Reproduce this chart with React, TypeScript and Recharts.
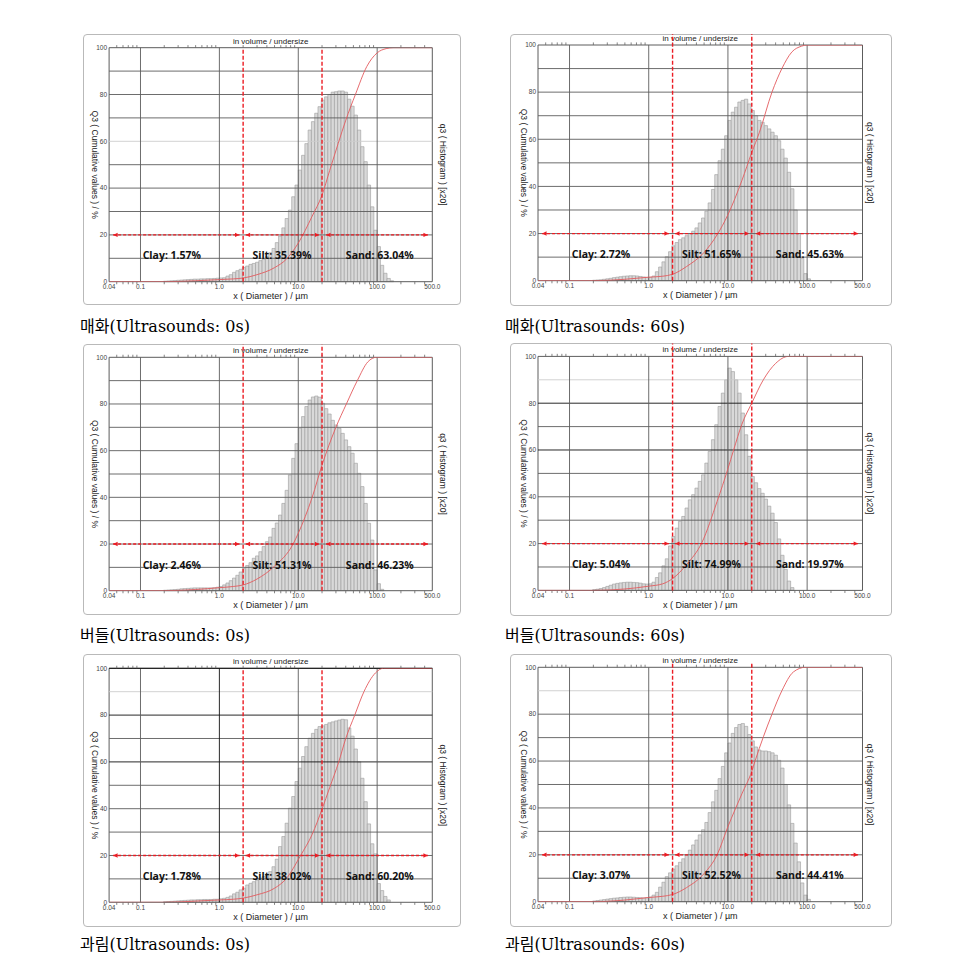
import React from "react";
import {
  ComposedChart,
  Line,
  XAxis,
  YAxis,
  ReferenceArea,
  ReferenceLine,
  ReferenceDot,
} from "recharts";

// analyser size classes: 24 per decade, first class starts at 10^(-17/24) µm
const CLASSES_PER_DECADE = 24;
const FIRST_CLASS = -17;

const X_TICKS = [0.04, 0.1, 1, 10, 100, 500];
const X_TICK_LABELS = ["0.04", "0.1", "1.0", "10.0", "100.0", "500.0"];
const X_MINOR = [
  0.05, 0.06, 0.07, 0.08, 0.09, 0.2, 0.3, 0.4, 0.5, 0.6, 0.7, 0.8, 0.9, 2, 3, 4, 5, 6, 7, 8, 9,
  20, 30, 40, 50, 60, 70, 80, 90, 200, 300, 400,
];
const X_GRID = [0.1, 1, 10, 100];
const Y_TICKS = [0, 20, 40, 60, 80, 100];
const Y_GRID = [10, 20, 30, 40, 50, 60, 70, 80, 90];

// clay | silt | sand limits (µm)
const CLASS_LIMITS = [2, 20];
const CLASS_NAMES = ["Clay", "Silt", "Sand"];
const ARROW_SPANS = [
  [0.045, 1.8],
  [2.15, 18.5],
  [22.5, 440],
];
const LABEL_X = [0.25, 6.2, 108];
const ARROW_Y = 20;
const LABEL_Y = 11.2;

const CAPTIONS = [
  "매화(Ultrasounds: 0s)",
  "매화(Ultrasounds: 60s)",
  "버들(Ultrasounds: 0s)",
  "버들(Ultrasounds: 60s)",
  "과림(Ultrasounds: 0s)",
  "과림(Ultrasounds: 60s)",
];

// clay / silt / sand percentages
const PCT_MAEHWA_0 = [1.57, 35.39, 63.04];
const PCT_MAEHWA_60 = [2.72, 51.65, 45.63];
const PCT_BEODEUL_0 = [2.46, 51.31, 46.23];
const PCT_BEODEUL_60 = [5.04, 74.99, 19.97];
const PCT_GWARIM_0 = [1.78, 38.02, 60.2];
const PCT_GWARIM_60 = [3.07, 52.52, 44.41];

// q3 histogram [x20], one value per size class starting at FIRST_CLASS
const Q3H_MAEHWA_0 = [
  0.2, 0.3, 0.4, 0.5, 0.6, 0.7, 0.8, 0.9, 1.0, 1.1, 1.1, 1.2, 1.2, 1.3, 1.3, 1.4, 1.5,
  1.6, 1.7, 2.4, 3.0, 4.0, 4.7, 5.3, 6.1, 6.7, 7.4,
  7.8, 8.3, 9.0, 9.7, 10.7, 12.4, 14.2, 16.7, 19.5, 23,
  27, 30.6, 36.3, 41.3, 47.7, 54, 59, 64.8, 68.4, 72,
  74.8, 77.6, 79, 80, 81, 81.2, 81.5, 81.5, 81, 78,
  75, 71.2, 64.8, 57.7, 51.3, 41.3, 32, 22, 15, 7,
  3.6, 1.4, 0.4,
];
const Q3H_MAEHWA_60 = [
  0.2, 0.3, 0.4, 0.6, 0.8, 1.0, 1.3, 1.5, 1.7, 1.9, 2.0, 2.1, 2.1, 2.0, 1.8, 1.6, 1.4,
  1.4, 2.0, 3.8, 5.8, 8.0, 10.2, 12.3, 14.8, 16.2, 17.4,
  18.2, 19.1, 20, 21, 22.4, 24.5, 26.6, 29.5, 33, 38.7,
  45, 50.9, 55.8, 61.5, 68, 71.5, 73.6, 75.8, 76.5, 77,
  75, 72.2, 70, 68, 67.2, 65.8, 64.4, 63, 61.5, 59.4,
  55.8, 52, 46, 39, 30, 20, 9.5, 3, 0.8,
];
const Q3H_BEODEUL_0 = [
  0.2, 0.3, 0.4, 0.5, 0.6, 0.8, 0.9, 1.0, 1.1, 1.2, 1.2, 1.2, 1.2, 1.2, 1.2, 1.3, 1.5,
  1.8, 2.5, 3.3, 4.3, 5.4, 6.6, 8.0, 9.5, 10.8, 12,
  13.9, 14.9, 16.7, 18.9, 21, 23, 26.7, 29, 32.4, 37.4,
  43, 49.6, 56.7, 63, 69.6, 74.6, 78.9, 81.7, 83, 83.4,
  82.9, 80.3, 78, 75.7, 73, 71, 69.6, 67.4, 64.6, 61.7,
  58.9, 54.6, 50.3, 44.6, 37.4, 28.9, 21.7, 8.9, 3, 0.6,
];
const Q3H_BEODEUL_60 = [
  0.3, 0.5, 0.8, 1.2, 1.7, 2.2, 2.7, 3.0, 3.2, 3.4, 3.5, 3.5, 3.4, 3.3, 3.1, 2.8, 2.7,
  2.8, 3.5, 5.5, 7.5, 10.5, 13.5, 19, 23, 26.6, 29.5,
  31.6, 35.2, 38.7, 40.9, 43.7, 46.6, 49.4, 54.4, 59.4, 64.4,
  70.8, 78.6, 84.3, 90, 95, 93.5, 90, 84.3, 75.8, 66.5,
  57.3, 48.7, 46, 43.5, 41.5, 39, 36, 33, 29, 22,
  15, 9, 4, 1.2,
];
const Q3H_GWARIM_0 = [
  0.2, 0.3, 0.4, 0.5, 0.6, 0.7, 0.8, 0.9, 1.0, 1.0, 1.1, 1.1, 1.2, 1.2, 1.2, 1.3, 1.3,
  1.5, 1.7, 2.1, 2.7, 3.6, 4.3, 5.3, 6, 7.4, 8.1,
  8.8, 9.5, 10.3, 11, 12, 13.1, 15.2, 18.4, 23.8, 28.1,
  33.8, 40.2, 45.2, 51.6, 57.3, 62.3, 66.5, 70.1, 72.2, 73.9,
  75.1, 75.4, 76, 76.7, 77.1, 77.5, 77.9, 78.2, 78, 74.5,
  71, 65.5, 60, 53, 43, 33.5, 25, 20.7, 8, 5,
  2.5, 1,
];
const Q3H_GWARIM_60 = [
  0.3, 0.5, 0.7, 0.9, 1.1, 1.3, 1.5, 1.6, 1.8, 1.9, 2.0, 2.0, 1.9, 1.8, 1.7, 1.6, 1.7,
  2.0, 2.8, 4.0, 6.2, 8.3, 10.7, 12.3, 13.9, 15.3, 16.8,
  18.3, 19.9, 22, 24.2, 26.3, 28.5, 30.7, 33.8, 38, 42.6,
  47.5, 52.5, 57.7, 63.5, 67.7, 71.8, 74.3, 75.6, 76, 74.8,
  71.3, 68.6, 66, 64.7, 64.3, 64.3, 64, 63.5, 62.5, 60.3,
  57, 50, 41.3, 33.4, 25, 17, 8, 2.8, 1,
];

// Q3 cumulative curve, [diameter µm, %]
const Q3_MAEHWA_0 = [
  [0.04, 0], [0.2, 0], [0.5, 0.4], [1, 0.9], [1.5, 1.2], [2, 1.57], [3, 3], [5, 6], [7, 9.5],
  [10, 16.5], [15, 28], [20, 37], [25, 47.5], [32, 59], [40, 69], [53, 80], [74, 92],
  [100, 97.8], [130, 99.6], [160, 100], [500, 100],
];
const Q3_MAEHWA_60 = [
  [0.04, 0], [0.2, 0], [0.5, 0.6], [1, 1.5], [1.5, 1.9], [2, 2.72], [3, 6], [5, 12], [7.3, 19.5],
  [10, 28], [15, 42.5], [20, 54.4], [25, 63], [36, 80], [48, 90], [64, 97], [85, 99.5],
  [100, 100], [500, 100],
];
const Q3_BEODEUL_0 = [
  [0.04, 0], [0.2, 0], [0.5, 0.5], [1, 1.3], [1.5, 1.8], [2, 2.46], [3, 5], [5, 10.5], [8.6, 20],
  [10, 24.6], [15, 40], [20, 53.8], [30, 70], [40.7, 80], [56, 90], [76, 98], [98, 100],
  [500, 100],
];
const Q3_BEODEUL_60 = [
  [0.04, 0], [0.2, 0], [0.5, 0.6], [1, 1.8], [1.5, 2.8], [2, 5.04], [3, 11], [4.7, 20.5],
  [7.3, 38], [10, 52], [11.8, 60], [15, 71], [20, 80.03], [28, 90], [40, 97], [58, 100],
  [500, 100],
];
const Q3_GWARIM_0 = [
  [0.04, 0], [0.2, 0], [0.5, 0.5], [1, 1.0], [1.5, 1.3], [2, 1.78], [3, 3.2], [5, 6], [7, 10],
  [10.7, 20], [15, 29], [20, 39.8], [25, 49], [32.6, 60], [40, 70], [52, 80], [68, 90],
  [95, 98], [120, 100], [500, 100],
];
const Q3_GWARIM_60 = [
  [0.04, 0], [0.2, 0], [0.5, 0.7], [1, 1.8], [1.5, 2.3], [2, 3.07], [3, 6], [5, 12], [7.3, 20],
  [10, 32], [15, 46], [20, 55.6], [22, 60], [36, 80], [48, 90], [67, 98], [95, 100],
  [500, 100],
];

const PANELS = [
  { bins: Q3H_MAEHWA_0, q3: Q3_MAEHWA_0, pct: PCT_MAEHWA_0 },
  { bins: Q3H_MAEHWA_60, q3: Q3_MAEHWA_60, pct: PCT_MAEHWA_60 },
  { bins: Q3H_BEODEUL_0, q3: Q3_BEODEUL_0, pct: PCT_BEODEUL_0 },
  { bins: Q3H_BEODEUL_60, q3: Q3_BEODEUL_60, pct: PCT_BEODEUL_60 },
  { bins: Q3H_GWARIM_0, q3: Q3_GWARIM_0, pct: PCT_GWARIM_0 },
  { bins: Q3H_GWARIM_60, q3: Q3_GWARIM_60, pct: PCT_GWARIM_60 },
];

// page layout of the six screenshots (box + plot insets)
const BOXES = [
  { left: 83, top: 34, width: 378, height: 271, pl: 26.1, pr: 28.7, pt: 13.7, pb: 23.3, rl: 10.5, lineTop: 100, dark: [] as number[], light: [60], darkX: [] as number[] },
  { left: 509.5, top: 34, width: 382, height: 272, pl: 28, pr: 29.5, pt: 11, pb: 25.3, rl: 7.3, lineTop: 105.4, dark: [], light: [], darkX: [] },
  { left: 83, top: 344, width: 378, height: 271, pl: 26.1, pr: 28.7, pt: 13.3, pb: 24.3, rl: 10.5, lineTop: 105.5, dark: [], light: [], darkX: [] },
  { left: 509.5, top: 343.3, width: 382, height: 272.7, pl: 28, pr: 29.5, pt: 13.4, pb: 25.3, rl: 7.3, lineTop: 105.5, dark: [60, 80], light: [90], darkX: [] },
  { left: 83, top: 654, width: 378, height: 272.7, pl: 26.1, pr: 28.7, pt: 14.3, pb: 24.4, rl: 10.5, lineTop: 100, dark: [60, 80, 100], light: [90], darkX: [1] },
  { left: 509.5, top: 654, width: 382, height: 272.7, pl: 28, pr: 29.5, pt: 13.3, pb: 25, rl: 7.3, lineTop: 101.7, dark: [], light: [90], darkX: [] },
];
const CAPTION_POS = [
  [80, 331.5], [505, 331.5], [80, 640.5], [505, 640.5], [80, 949.5], [505, 949.5],
];

const RED = "#ec1c24";
const FONT = "'Liberation Sans', Arial, sans-serif";
const edge = (k: number) => Math.pow(10, k / CLASSES_PER_DECADE);

function ArrowHead(props: any) {
  const { cx, cy, dir } = props;
  if (cx == null || cy == null) return null;
  const b = cx - dir * 4.5;
  return <path d={`M${cx},${cy}L${b},${cy - 2.2}L${b},${cy + 2.2}Z`} fill={RED} />;
}

function Panel({ spec, box }: { spec: (typeof PANELS)[number]; box: (typeof BOXES)[number] }) {
  const { width, height, pl, pr, pt, pb } = box;
  const plotW = width - pl - pr;
  const plotH = height - pt - pb;
  const cum = spec.q3.map(([d, q]) => ({ d, q }));
  const gridColor = (v: number) =>
    box.dark.includes(v) ? "#111" : box.light.includes(v) ? "#cdcdcd" : "#5c5c5c";

  return (
    <div
      style={{
        position: "absolute",
        left: box.left,
        top: box.top,
        width,
        height,
        border: "1px solid #b9b9b9",
        borderRadius: 4,
        boxSizing: "border-box",
        background: "#fff",
      }}
    >
      <svg
        width={width}
        height={height}
        style={{ position: "absolute", left: -1, top: -1, overflow: "visible" }}
      >
        <text x={pl + plotW / 2} y={pt - 6.5} textAnchor="middle" dominantBaseline="central" fontSize={8} fill="#222" fontFamily={FONT}>
          in volume / undersize
        </text>
        <text x={pl + plotW / 2} y={pt + plotH + 14.5} textAnchor="middle" dominantBaseline="central" fontSize={9} fill="#222" fontFamily={FONT}>
          x ( Diameter ) / µm
        </text>
        <text transform={`translate(${pl - 14.5},${pt + plotH / 2}) rotate(90)`} textAnchor="middle" dominantBaseline="central" fontSize={8.5} fill="#222" fontFamily={FONT}>
          Q3 ( Cumulative values ) / %
        </text>
        <text transform={`translate(${pl + plotW + box.rl},${pt + plotH / 2}) rotate(90)`} textAnchor="middle" dominantBaseline="central" fontSize={8.5} fill="#222" fontFamily={FONT}>
          q3 ( Histogram ) [x20]
        </text>
      </svg>
      <div style={{ position: "absolute", left: -1, top: -1 }}>
        <ComposedChart
          width={width}
          height={height}
          data={cum}
          margin={{ top: pt, right: pr, bottom: pb - 12, left: pl - 18 }}
        >
          <XAxis
            dataKey="d"
            type="number"
            scale="log"
            domain={[0.04, 500]}
            allowDataOverflow
            ticks={X_TICKS}
            interval={0}
            tickFormatter={(v) => X_TICK_LABELS[X_TICKS.indexOf(v)] ?? ""}
            tickLine={false}
            axisLine={false}
            height={12}
            tickSize={2}
            tickMargin={1}
            tick={{ fontSize: 6.5, fill: "#444", fontFamily: FONT }}
          />
          <YAxis
            type="number"
            domain={[0, 100]}
            allowDataOverflow
            ticks={Y_TICKS}
            interval={0}
            tickLine={false}
            axisLine={false}
            width={18}
            tickSize={1}
            tickMargin={1}
            tick={{ fontSize: 6.5, fill: "#444", fontFamily: FONT }}
          />
          {spec.bins.map((h, i) => (
            <ReferenceArea
              key={`bin${i}`}
              x1={edge(FIRST_CLASS + i)}
              x2={edge(FIRST_CLASS + i + 1)}
              y1={0}
              y2={h}
              fill="#d9d9d9"
              fillOpacity={1}
              stroke="#9c9c9c"
              strokeWidth={0.6}
            />
          ))}
          {Y_GRID.map((v) => (
            <ReferenceLine key={`gy${v}`} y={v} stroke={gridColor(v)} strokeWidth={0.9} />
          ))}
          {X_GRID.map((v) => (
            <ReferenceLine
              key={`gx${v}`}
              x={v}
              stroke={box.darkX.includes(v) ? "#111" : "#5c5c5c"}
              strokeWidth={0.9}
            />
          ))}
          <ReferenceArea
            x1={0.04}
            x2={500}
            y1={0}
            y2={100}
            fill="none"
            stroke="#5c5c5c"
            strokeWidth={1}
            ifOverflow="visible"
          />
          {box.dark.includes(100) && (
            <ReferenceLine y={100} stroke="#111" strokeWidth={1} ifOverflow="visible" />
          )}
          {X_MINOR.map((v) => (
            <ReferenceLine
              key={`mt${v}`}
              segment={[{ x: v, y: 100 }, { x: v, y: 101.1 }]}
              stroke="#666"
              strokeWidth={0.8}
              ifOverflow="visible"
            />
          ))}
          {X_MINOR.map((v) => (
            <ReferenceLine
              key={`mb${v}`}
              segment={[{ x: v, y: 0 }, { x: v, y: -1.1 }]}
              stroke="#666"
              strokeWidth={0.8}
              ifOverflow="visible"
            />
          ))}
          <Line
            type="monotone"
            dataKey="q"
            stroke="#e35a5e"
            strokeWidth={0.9}
            dot={false}
            activeDot={false}
            isAnimationActive={false}
          />
          {CLASS_LIMITS.map((v) => (
            <ReferenceLine
              key={`lim${v}`}
              segment={[{ x: v, y: 0 }, { x: v, y: box.lineTop }]}
              stroke={RED}
              strokeWidth={1.4}
              strokeDasharray="4 2"
              ifOverflow="visible"
            />
          ))}
          {ARROW_SPANS.map(([a, b], i) => (
            <ReferenceLine
              key={`arr${i}`}
              segment={[{ x: a, y: ARROW_Y }, { x: b, y: ARROW_Y }]}
              stroke={RED}
              strokeWidth={1.3}
              strokeDasharray="3 2"
            />
          ))}
          {ARROW_SPANS.map(([a], i) => (
            <ReferenceDot key={`ha${i}`} x={a} y={ARROW_Y} shape={(p: any) => <ArrowHead {...p} dir={-1} />} />
          ))}
          {ARROW_SPANS.map(([, b], i) => (
            <ReferenceDot key={`hb${i}`} x={b} y={ARROW_Y} shape={(p: any) => <ArrowHead {...p} dir={1} />} />
          ))}
          {CLASS_NAMES.map((n, i) => (
            <ReferenceDot
              key={`lab${i}`}
              x={LABEL_X[i]}
              y={LABEL_Y}
              shape={(p: any) => (
                <text
                  x={p.cx}
                  y={p.cy}
                  textAnchor="middle"
                  dominantBaseline="central"
                  fontSize={10.5}
                  fontWeight={700}
                  fill="#111"
                  fontFamily="'Open Sans', 'Noto Sans', sans-serif"
                >
                  {`${n}: ${spec.pct[i].toFixed(2)}%`}
                </text>
              )}
            />
          ))}
        </ComposedChart>
      </div>
    </div>
  );
}

export default function App() {
  return (
    <div
      style={{
        position: "absolute",
        left: 0,
        top: 0,
        width: 972,
        height: 971,
        background: "#fff",
        overflow: "hidden",
      }}
    >
      <svg width={972} height={971} style={{ position: "absolute", left: 0, top: 0 }}>
        {CAPTIONS.map((c, i) => (
          <text
            key={c}
            x={CAPTION_POS[i][0]}
            y={CAPTION_POS[i][1]}
            fontSize={16}
            fill="#000"
            fontFamily="'DejaVu Serif', 'Noto Sans CJK KR', serif"
          >
            {c}
          </text>
        ))}
      </svg>
      {PANELS.map((s, i) => (
        <Panel key={i} spec={s} box={BOXES[i]} />
      ))}
    </div>
  );
}
